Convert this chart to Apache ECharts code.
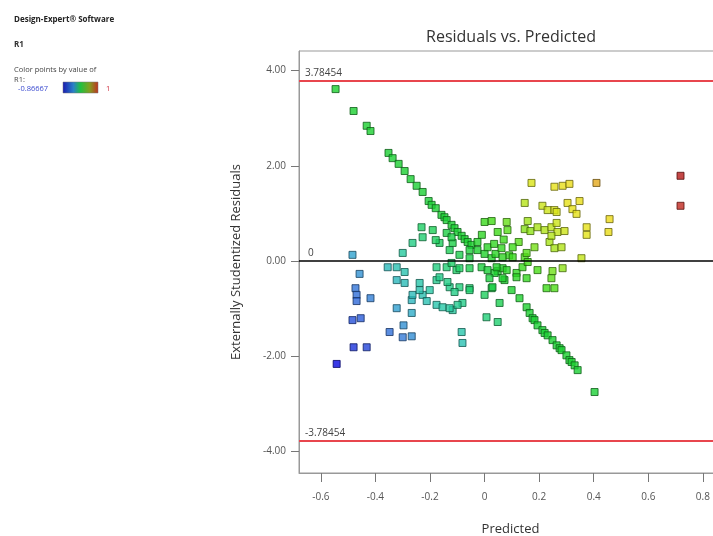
<!DOCTYPE html>
<html><head><meta charset="utf-8">
<script src="https://cdn.jsdelivr.net/npm/echarts@6/dist/echarts.min.js"></script>
<style>html,body{margin:0;padding:0;background:#fff;overflow:hidden}#c{width:723px;height:536px}</style>
</head><body><div id="c"></div>
<script>
// [predicted, externally studentized residual]
const diagPts = [
[-0.546,3.61],[-0.480,3.15],[-0.432,2.84],[-0.418,2.73],[-0.352,2.27],[-0.337,2.16],[-0.315,2.04],[-0.293,1.89],[-0.271,1.72],[-0.249,1.58],[-0.227,1.45],[-0.205,1.26],[-0.194,1.18],[-0.179,1.11],[-0.158,0.97],[-0.147,0.92],[-0.139,0.86],[-0.121,0.76],[-0.110,0.69],[-0.099,0.61],[-0.084,0.53],[-0.073,0.46],[-0.062,0.40],[-0.048,0.34],[-0.026,0.23],[0,0.15],[0.026,0.06],[0.048,-0.21],[0.073,-0.40],[0.099,-0.61],[0.128,-0.78],
[0.154,-0.97],[0.165,-1.09],[0.176,-1.20],[0.183,-1.24],[0.194,-1.35],[0.212,-1.45],[0.220,-1.51],[0.231,-1.56],[0.249,-1.66],[0.264,-1.77],[0.275,-1.83],[0.282,-1.87],[0.300,-1.98],[0.311,-2.08],[0.319,-2.12],[0.330,-2.19],[0.341,-2.29],[0.403,-2.75]
];
const leftPts = [
[-0.484,0.13],[-0.458,-0.27],[-0.473,-0.57],[-0.469,-0.71],[-0.469,-0.84],[-0.418,-0.78],[-0.484,-1.24],[-0.454,-1.20],[-0.480,-1.81],[-0.432,-1.81],[-0.542,-2.16],
[-0.348,-1.49],[-0.297,-1.35],[-0.300,-1.60],[-0.267,-1.58],[-0.322,-0.99],[-0.267,-1.09],[-0.355,-0.13],[-0.322,-0.13],[-0.322,-0.40],[-0.293,-0.23],[-0.300,0.17],[-0.231,0.71],[-0.227,0.50],[-0.264,0.38],[-0.267,-0.82],[-0.264,-0.71],[-0.227,-0.71],[-0.212,-0.84],[-0.238,-0.61],[-0.201,-0.61],[-0.238,-0.46],[-0.293,-0.46]
];
const centerPts = [
[-0.176,-0.92],[-0.154,-0.97],[-0.117,-1.03],[-0.081,-0.88],[-0.084,-1.49],[-0.081,-1.72],[-0.176,-0.40],[-0.165,-0.34],[-0.128,-0.55],[-0.092,-0.55],[-0.055,-0.57],[-0.139,-0.13],[-0.103,-0.19],[-0.176,-0.13],[-0.165,0.38],[-0.139,0.59],[-0.117,0.38],[-0.190,0.65],[-0.179,0.44],
[-0.092,-0.15],[-0.055,-0.15],[-0.121,-0.04],[-0.011,-0.13],[0.011,-0.19],[0.037,-0.25],[0.066,-0.15],[0.117,-0.25],[-0.136,-0.44],[-0.110,-0.65],[0,-0.71],[0.026,-0.57],[0.055,-0.88],[-0.128,-0.99],[-0.099,-0.92],[0.007,-1.18],[0.048,-1.28],[-0.121,0.50],[-0.128,0.23],[-0.026,0.40],[0.011,0.29],[-0.092,0.13],[-0.055,0.06],
[0.040,0.15],[0.090,0.12],[0.035,0.36],[0.070,0.45],[-0.010,0.55],[0.125,0.40]
];
const rightPts = [
[0,0.82],[0.026,0.84],[0.081,0.82],[0.048,0.61],[0.084,0.65],[0.238,0.40],[0.256,0.27],[0.282,0.29],[0.183,0.29],[0.062,0.27],[0.103,0.29],[-0.055,0.23],[0.066,0.08],[0.103,0.08],[0.147,0.08],[0.044,-0.13],[0.081,-0.19],[0.139,-0.13],[0.194,-0.19],[0.249,-0.21],[0.286,-0.15],[0.117,-0.34],[0.066,-0.36],[0.018,-0.36],[0.245,-0.36],[0.227,-0.57],[0.256,-0.57],[0.029,-0.55],[-0.055,-0.61],[0.154,-0.36],
[0.158,0.84],[0.147,0.67],[0.168,0.63],[0.194,0.71],[0.220,0.65],[0.245,0.71],[0.264,0.80],[0.267,0.61],[0.293,0.63],[0.245,0.53],[0.154,0.17],[0.158,-0.02]
];
const yellowPts = [
[0.172,1.64],[0.256,1.56],[0.286,1.58],[0.311,1.62],[0.410,1.64],[0.147,1.22],[0.212,1.16],[0.231,1.07],[0.256,1.07],[0.264,1.03],[0.304,1.22],[0.348,1.26],[0.322,1.09],[0.337,0.99],[0.458,0.88],[0.374,0.71],[0.374,0.55],[0.454,0.61],[0.355,0.06]
];
const redPts = [[0.718,1.79],[0.718,1.16]];

const xTicks = [-0.6,-0.4,-0.2,0,0.2,0.4,0.6,0.8];
const yTicks = [-4,-2,0,2,4];
const limitHi = 3.78454, limitLo = -3.78454;
const colorMin = -0.86667, colorMax = 1;

// colour scale for R1 (blue -> cyan -> green -> yellow -> red)
const stops = [
[-0.867,'#0808e0'],[-0.70,'#2448d8'],[-0.55,'#3478d8'],[-0.45,'#30aacc'],[-0.30,'#28c8a8'],
[-0.15,'#20d070'],[0.0,'#1cd030'],[0.15,'#40dc18'],[0.30,'#a8e418'],[0.45,'#e4e418'],
[0.60,'#ecd818'],[0.80,'#cc3828'],[1.0,'#b41818']];
function hex2rgb(h){return [parseInt(h.substr(1,2),16),parseInt(h.substr(3,2),16),parseInt(h.substr(5,2),16)];}
function colorAt(v){
  if(v<=stops[0][0]) return hex2rgb(stops[0][1]);
  for(let i=1;i<stops.length;i++){
    if(v<=stops[i][0]){
      const a=stops[i-1],b=stops[i],t=(v-a[0])/(b[0]-a[0]);
      const ca=hex2rgb(a[1]),cb=hex2rgb(b[1]);
      return ca.map((c,k)=>Math.round(c+(cb[k]-c)*t));
    }
  }
  return hex2rgb(stops[stops.length-1][1]);
}
const allPts = [].concat(diagPts,leftPts,centerPts,rightPts,yellowPts,redPts);
const data = allPts.map(p=>{
  const r1 = p[0] + 0.152*p[1];
  const c = colorAt(r1);
  const d = c.map(x=>Math.round(x*0.45));
  return {value:p, itemStyle:{color:'rgb('+c.join(',')+')', borderColor:'rgb('+d.join(',')+')'}};
});

const chart = echarts.init(document.getElementById('c'));
const FONT = 'Open Sans';
chart.setOption({
  animation:false,
  backgroundColor:'#fff',
  textStyle:{fontFamily:FONT},
  grid:{left:299, top:51, right:1, bottom:63, show:true, borderColor:'#999', borderWidth:1, containLabel:false, outerBoundsMode:'none'},
  xAxis:{
    type:'value', min:-0.68, max:0.87,
    name:'Predicted', nameLocation:'middle', nameGap:50,
    nameTextStyle:{fontSize:13, color:'#333', fontFamily:FONT},
    axisLine:{show:true, onZero:false, lineStyle:{color:'#999'}},
    axisTick:{show:true, customValues:xTicks, length:9, lineStyle:{color:'#777'}},
    axisLabel:{customValues:xTicks, margin:19, fontSize:10, color:'#555', fontFamily:FONT,
      formatter:v=>Math.abs(v)<1e-9?'0':v.toFixed(1)},
    splitLine:{show:false}
  },
  yAxis:{
    type:'value', min:-4.45, max:4.41,
    name:'Externally Studentized Residuals', nameLocation:'middle', nameGap:56,
    nameTextStyle:{fontSize:13, color:'#333', fontFamily:FONT},
    axisLine:{show:true, onZero:false, lineStyle:{color:'#999'}},
    axisTick:{show:true, customValues:yTicks, length:8, lineStyle:{color:'#777'}},
    axisLabel:{customValues:yTicks, margin:13, fontSize:10, color:'#555', fontFamily:FONT,
      formatter:v=>v.toFixed(2)},
    splitLine:{show:false}
  },
  series:[{
    type:'scatter', symbol:'rect', symbolSize:7,
    itemStyle:{borderWidth:1},
    data:data,
    markLine:{
      silent:true, symbol:['none','none'], animation:false,
      label:{position:'insideStartTop', fontSize:10, color:'#444', fontFamily:FONT, distance:[6,3]},
      data:[
        {yAxis:limitHi, lineStyle:{color:'#e8464e', width:2, type:'solid'}, label:{formatter:String(limitHi)}},
        {yAxis:0, lineStyle:{color:'#000', width:1.5, type:'solid'}, label:{formatter:'0', distance:[9,3]}},
        {yAxis:limitLo, lineStyle:{color:'#e8464e', width:2, type:'solid'}, label:{formatter:String(limitLo)}}
      ]
    }
  }],
  graphic:[
    {type:'text', x:511, y:37, style:{text:'Residuals vs. Predicted', font:'16px "Open Sans"', fill:'#333', textAlign:'center', textVerticalAlign:'middle'}},
    {type:'text', x:14, y:20, style:{text:'Design-Expert® Software', font:'bold 8px "Open Sans"', fill:'#222', textVerticalAlign:'middle'}},
    {type:'text', x:14, y:45, style:{text:'R1', font:'bold 8px "Open Sans"', fill:'#333', textVerticalAlign:'middle'}},
    {type:'text', x:14, y:70, style:{text:'Color points by value of', font:'7.5px "Open Sans"', fill:'#444', textVerticalAlign:'middle'}},
    {type:'text', x:14, y:80, style:{text:'R1:', font:'7.5px "Open Sans"', fill:'#444', textVerticalAlign:'middle'}},
    {type:'text', x:18, y:89, style:{text:String(colorMin), font:'7.5px "Open Sans"', fill:'#3a4ad0', textVerticalAlign:'middle'}},
    {type:'rect', shape:{x:63, y:82, width:35, height:11}, style:{fill:new echarts.graphic.LinearGradient(0,0,1,0,[
      {offset:0,color:'#1a1ab0'},{offset:0.3,color:'#2a80c8'},{offset:0.5,color:'#20c040'},{offset:0.75,color:'#80a020'},{offset:1,color:'#c03020'}]), stroke:'#777', lineWidth:0.5}},
    {type:'text', x:106, y:89, style:{text:String(colorMax), font:'7.5px "Open Sans"', fill:'#d03040', textVerticalAlign:'middle'}}
  ]
});
</script></body></html>
